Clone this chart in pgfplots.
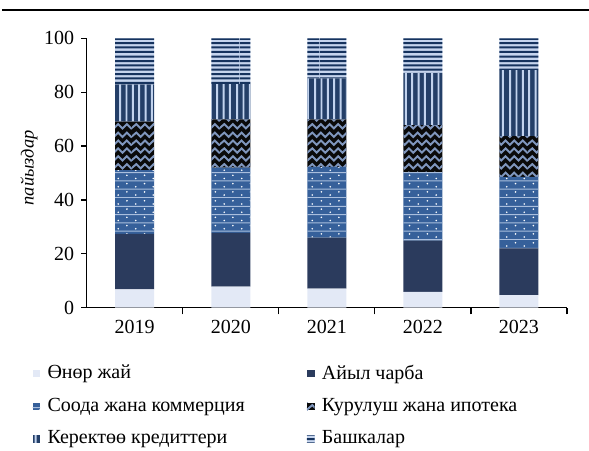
\documentclass[border=0pt]{standalone}
\usepackage{fontspec}
\setmainfont{Liberation Serif}
\usepackage{pgfplots}
\pgfplotsset{compat=1.18}
\usetikzlibrary{patterns.meta}

\definecolor{cInd}{HTML}{E3E9F6}
\definecolor{cAgr}{HTML}{2B3B5D}
\definecolor{cTrade}{HTML}{36609A}
\definecolor{cTradeL}{HTML}{A9BEDD}
\definecolor{cConB}{HTML}{0A0A0A}
\definecolor{cConL}{HTML}{7F96BD}
\definecolor{cCsmD}{HTML}{243F68}
\definecolor{cCsmL}{HTML}{C2D3EE}
\definecolor{cOthL}{HTML}{C6D5EE}
\definecolor{cOthD}{HTML}{16335E}

\pgfdeclarepattern{
  name=othstripes, type=uncolored,
  bottom left={\pgfpoint{0pt}{0pt}},
  top right={\pgfpoint{40pt}{22pt}},
  tile size={\pgfpoint{40pt}{22pt}},
  code={
    \foreach \k in {0,...,9}{
      \pgfpathrectangle{\pgfpoint{-0.1pt}{0.6pt+2.2pt*\k}}{\pgfpoint{40.2pt}{1pt}}
    }
    \pgfusepath{fill}
  }
}
\pgfdeclarepattern{
  name=csmstripes, type=uncolored,
  bottom left={\pgfpoint{0pt}{0pt}},
  top right={\pgfpoint{19.5pt}{40pt}},
  tile size={\pgfpoint{19.5pt}{40pt}},
  code={
    \foreach \k in {0,...,5}{
      \pgfpathrectangle{\pgfpoint{1.1pt+3.25pt*\k}{-0.1pt}}{\pgfpoint{1pt}{40.2pt}}
    }
    \pgfusepath{fill}
  }
}
\pgfdeclarepattern{
  name=tradelines, type=uncolored,
  bottom left={\pgfpoint{0pt}{0pt}},
  top right={\pgfpoint{26.4pt}{21pt}},
  tile size={\pgfpoint{26.4pt}{21pt}},
  code={
    \foreach \k in {0,...,4}{
      \pgfpathrectangle{\pgfpoint{-0.1pt}{4.2pt*\k}}{\pgfpoint{26.6pt}{0.5pt}}
    }
    \pgfusepath{fill}
  }
}
\pgfdeclarepattern{
  name=tradedots, type=uncolored,
  bottom left={\pgfpoint{0pt}{0pt}},
  top right={\pgfpoint{26.4pt}{21pt}},
  tile size={\pgfpoint{26.4pt}{21pt}},
  code={
    \foreach \i in {0,1,2}{
      \foreach \k in {0,...,4}{
        \pgfpathcircle{\pgfpoint{2.2pt+8.8pt*\i}{3.1pt+4.2pt*\k}}{0.45pt}
        \pgfpathcircle{\pgfpoint{6.6pt+8.8pt*\i}{1.5pt+4.2pt*\k}}{0.45pt}
      }
    }
    \pgfusepath{fill}
  }
}
\pgfdeclarepattern{
  name=zigzag, type=uncolored,
  bottom left={\pgfpoint{0pt}{0pt}},
  top right={\pgfpoint{22pt}{20pt}},
  tile size={\pgfpoint{22pt}{20pt}},
  code={
    \pgfsetlinewidth{1pt}
    \foreach \k in {0,...,4}{
      \pgfpathmoveto{\pgfpoint{-0.4pt}{0.8pt+4pt*\k}}
      \foreach \i in {0,...,4}{
        \pgfpathlineto{\pgfpoint{2.2pt+4.4pt*\i}{3.0pt+4pt*\k}}
        \pgfpathlineto{\pgfpoint{4.4pt+4.4pt*\i}{0.8pt+4pt*\k}}
      }
      \pgfpathlineto{\pgfpoint{22.4pt}{1.13pt+4pt*\k}}
    }
    \pgfusepath{stroke}
  }
}

\begin{document}
\begin{tikzpicture}
\useasboundingbox (0,0) rectangle (294.5pt,225pt);
\draw[line width=1pt] (1pt,219.85pt) -- (294.5pt,219.85pt);
\begin{axis}[
  at={(43.35pt,71.15pt)}, anchor=south west,
  scale only axis, width=240.15pt, height=134.7pt,
  ybar stacked, bar width=19.5pt,
  xmin=-0.5, xmax=4.5, ymin=0, ymax=100,
  axis x line*=bottom, axis y line*=left,
  axis line style={line width=0.6pt, black},
  xtick={0,1,2,3,4},
  xticklabels={2019,2020,2021,2022,2023},
  major x tick style={draw=none},
  minor xtick={0.5,1.5,2.5,3.5,4.5},
  minor x tick style={line width=0.6pt, black},
  minor tick length=3.3pt,
  ytick={0,20,40,60,80,100},
  yticklabels={0,20,40,60,80,100},
  major tick length=2.8pt,
  tick align=outside,
  y tick style={line width=0.6pt, black},
  /pgf/number format/assume math mode=true,
  ticklabel style={font=\fontsize{10}{12}\selectfont},
  ylabel={пайыздар},
  ylabel style={font=\fontsize{9.2}{10}\selectfont\itshape, at={(axis description cs:-0.120,0.519)}, anchor=center},
  legend columns=2,
  legend style={at={(axis description cs:-0.1136,-0.202)}, anchor=north west, draw=none, fill=none,
    font=\fontsize{10}{12}\selectfont, row sep=5.7pt, inner sep=0pt,
    nodes={inner sep=1.2pt}},
  legend cell align=left,
  legend image code/.code={\fill[#1] (0pt,-1.9pt) rectangle (3.8pt,1.9pt);},
]
\addplot[fill=cInd, draw=none] coordinates {(0,6.8) (1,7.8) (2,7.1) (3,5.9) (4,4.7)};
\addlegendentry{\makebox[131pt][l]{\hspace*{2.5pt}Өнөр жай}}
\addplot[fill=cAgr, draw=none] coordinates {(0,20.6) (1,20.0) (2,18.9) (3,19.0) (4,17.3)};
\addlegendentry{\hspace*{2.5pt}Айыл чарба}
\addplot[fill=cTrade, draw=none, postaction={pattern=tradelines, pattern color=cTradeL}, postaction={pattern=tradedots, pattern color=white}] coordinates {(0,23.7) (1,24.2) (2,26.3) (3,25.4) (4,26.6)};
\addlegendentry{\makebox[131pt][l]{\hspace*{2.5pt}Соода жана коммерция}}
\addplot[fill=cConB, draw=none, postaction={pattern=zigzag, pattern color=cConL}] coordinates {(0,18.0) (1,17.9) (2,17.6) (3,17.5) (4,15.1)};
\addlegendentry{\hspace*{2.5pt}Курулуш жана ипотека}
\addplot[fill=cCsmD, draw=none, postaction={pattern=csmstripes, pattern color=cCsmL}] coordinates {(0,13.8) (1,13.1) (2,15.2) (3,19.4) (4,24.5)};
\addlegendentry{\makebox[131pt][l]{\hspace*{2.5pt}Керектөө кредиттери}}
\addplot[fill=cOthL, draw=none, postaction={pattern=othstripes, pattern color=cOthD}] coordinates {(0,17.1) (1,17.0) (2,14.9) (3,12.8) (4,11.8)};
\addlegendentry{\hspace*{2.5pt}Башкалар}
\end{axis}
\end{tikzpicture}
\end{document}
